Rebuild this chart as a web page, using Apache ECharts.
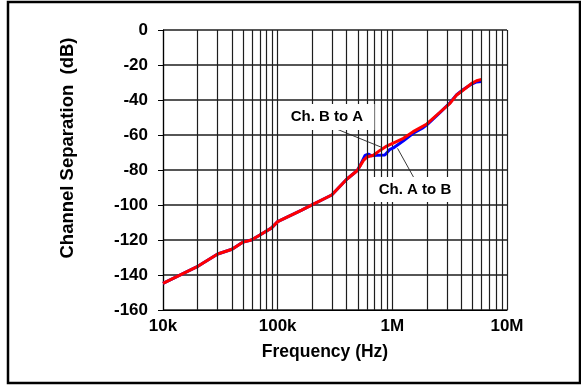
<!DOCTYPE html>
<html>
<head>
<meta charset="utf-8">
<script src="https://cdn.jsdelivr.net/npm/echarts@6/dist/echarts.min.js"></script>
<style>
  html, body { margin: 0; padding: 0; background: #fff; }
  #chart { width: 581px; height: 385px; }
</style>
</head>
<body>
<div id="chart"></div>
<script>
// Channel separation vs. frequency, both directions
const FONT = "'Liberation Sans', Arial, sans-serif";

const xTickValues = [10000, 100000, 1000000, 10000000];
const xTickLabels = ['10k', '100k', '1M', '10M'];
const yTicks = [-160, -140, -120, -100, -80, -60, -40, -20, 0];

// Ch. B to A (red)
const redFreq = [10000, 20300, 30000, 40000, 50000, 59000, 70000, 88000, 100000, 162000,
  205000, 296000, 400000, 495000, 560000, 600000, 683000, 780000, 893000, 1250000,
  1520000, 2000000, 2600000, 3180000, 3640000, 4160000, 4920000, 5430000, 6000000];
const redDb = [-144.8, -134.9, -128.0, -125.3, -121.2, -120.0, -117.1, -113.2, -109.5, -102.9,
  -99.5, -94.3, -85.3, -80.3, -74.5, -72.6, -71.6, -68.8, -66.3, -61.9,
  -58.1, -53.7, -47.0, -41.9, -37.1, -34.3, -30.5, -29.0, -28.2];

// Ch. A to B (blue)
const blueFreq = [10000, 20300, 30000, 40000, 50000, 59000, 70000, 88000, 100000, 162000,
  205000, 296000, 400000, 495000, 527000, 578000, 617000, 654000, 730000, 860000,
  955000, 1020000, 1250000, 1520000, 1860000, 2000000, 2600000, 3180000, 3640000,
  4160000, 4920000, 5430000, 6000000];
const blueDb = [-144.8, -134.9, -128.0, -125.3, -121.2, -120.0, -117.1, -113.2, -109.5, -102.9,
  -99.5, -94.3, -85.3, -80.3, -77.1, -71.6, -70.9, -71.8, -71.6, -71.4,
  -68.2, -67.4, -63.3, -59.0, -55.8, -54.2, -47.2, -41.6, -37.0,
  -34.0, -30.9, -29.7, -29.5];

// Minor log grid: 2..9 within each decade
const minorFreqs = [];
[10000, 100000, 1000000].forEach(d => {
  for (let m = 2; m <= 9; m++) minorFreqs.push(m * d);
});

// Annotation labels: [text, box centre freq, box centre dB, box w, box h]
const noteBA = ['Ch. B to A', 269000, -49.7, 95, 26];
const noteAB = ['Ch. A to B', 1576000, -91.1, 84, 25];
// Arrows: [from freq, from dB, to freq, to dB]
const arrowBA = [316000, -56.2, 796000, -66.9];
const arrowAB = [1580000, -85.7, 1110000, -67.6];

const zip = (xs, ys) => xs.map((x, i) => [x, ys[i]]);
const gridColor = '#1e1e1e';

const noteBox = n => ({
  coord: [n[1], n[2]],
  symbol: 'rect',
  symbolSize: [n[3], n[4]],
  itemStyle: { color: '#fff' },
  label: {
    show: true, position: 'inside', formatter: n[0],
    color: '#000', fontFamily: FONT, fontWeight: 'bold', fontSize: 15
  }
});

const chart = echarts.init(document.getElementById('chart'), null, { renderer: 'canvas' });
chart.setOption({
  animation: false,
  backgroundColor: '#fff',
  grid: { left: 163, right: 74, top: 30, bottom: 75 },
  xAxis: {
    type: 'log', logBase: 10, min: 10000, max: 10000000,
    axisLine: { show: true, onZero: false, lineStyle: { color: '#000', width: 1.2 } },
    axisTick: { show: false },
    axisLabel: {
      color: '#000', fontFamily: FONT, fontWeight: 'bold', fontSize: 17, margin: 8,
      formatter: v => {
        const i = xTickValues.findIndex(t => Math.abs(t - v) / t < 1e-6);
        return i >= 0 ? xTickLabels[i] : '';
      }
    },
    splitLine: { show: true, lineStyle: { color: gridColor, width: 1.2 } },
    minorTick: { show: false }, minorSplitLine: { show: false }
  },
  yAxis: {
    type: 'value', min: -160, max: 0, interval: 20,
    axisLine: { show: true, onZero: false, lineStyle: { color: '#000', width: 1.2 } },
    axisTick: { show: true, inside: false, length: 5, lineStyle: { color: '#000' } },
    axisLabel: {
      color: '#000', fontFamily: FONT, fontWeight: 'bold', fontSize: 17, margin: 15,
      formatter: v => (yTicks.includes(v) ? String(v) : '')
    },
    splitLine: { show: true, lineStyle: { color: gridColor, width: 1.5 } }
  },
  graphic: [
    {
      type: 'rect', silent: true, z: 100,
      shape: { x: 8, y: 2, width: 572, height: 381 },
      style: { fill: 'none', stroke: '#000', lineWidth: 2.5 }
    },
    {
      type: 'text', silent: true, z: 100,
      x: 68, y: 148, rotation: Math.PI / 2,
      style: {
        text: 'Channel Separation  (dB)', fill: '#000',
        font: 'bold 18.5px ' + FONT, align: 'center', verticalAlign: 'middle'
      }
    },
    {
      type: 'text', silent: true, z: 100,
      x: 325, y: 352,
      style: {
        text: 'Frequency (Hz)', fill: '#000',
        font: 'bold 17.5px ' + FONT, align: 'center', verticalAlign: 'middle'
      }
    }
  ],
  series: [
    {
      // minor grid lines and annotation boxes
      type: 'line', data: [], z: 1, silent: true,
      markLine: {
        silent: true, symbol: ['none', 'none'], animation: false,
        label: { show: false },
        lineStyle: { color: gridColor, width: 1.2, type: 'solid' },
        data: minorFreqs.map(f => ({ xAxis: f }))
      },
      markPoint: {
        silent: true, animation: false,
        data: [noteBox(noteBA), noteBox(noteAB)]
      }
    },
    {
      name: 'Ch. A to B', type: 'line', z: 3,
      data: zip(blueFreq, blueDb), showSymbol: false,
      lineStyle: { color: '#0000ff', width: 3 }
    },
    {
      name: 'Ch. B to A', type: 'line', z: 4,
      data: zip(redFreq, redDb), showSymbol: false,
      lineStyle: { color: '#ff0000', width: 3 },
      markLine: {
        silent: true, animation: false,
        symbol: ['none', 'arrow'], symbolSize: [0, 7],
        label: { show: false },
        lineStyle: { color: '#222', width: 0.9, type: 'solid' },
        data: [
          [{ coord: [arrowBA[0], arrowBA[1]] }, { coord: [arrowBA[2], arrowBA[3]] }],
          [{ coord: [arrowAB[0], arrowAB[1]] }, { coord: [arrowAB[2], arrowAB[3]] }]
        ]
      }
    }
  ]
});
</script>
</body>
</html>
